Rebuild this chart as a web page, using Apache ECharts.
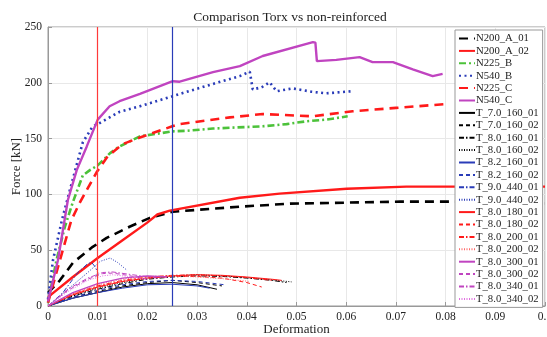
<!DOCTYPE html>
<html>
<head>
<meta charset="utf-8">
<script src="https://cdn.jsdelivr.net/npm/echarts@6/dist/echarts.min.js"></script>
<style>
html,body{margin:0;padding:0;background:#fff;}
#chart{width:547px;height:337px;}
</style>
</head>
<body>
<div id="chart"></div>
<script>
// deformation / force pairs
var n200A01 = [[0,11.7],[0.0024,23],[0.005,38.7],[0.009,53],[0.0118,61],[0.0164,71],[0.0205,79],[0.0251,84.5],[0.0386,89],[0.0487,91.7],[0.0708,93.5],[0.0822,93.5],[0.1,92]];
var n200A02 = [[0,8],[0.005,26],[0.01,43],[0.015,59],[0.0199,74.5],[0.022,82],[0.0245,85.4],[0.0386,97],[0.0466,100.7],[0.0601,105],[0.0721,107],[0.0814,107],[0.1,107]];
var n225B = [[0,3],[0.0017,41],[0.0034,71],[0.005,93],[0.007,117],[0.0085,122],[0.01,126],[0.0125,137],[0.0144,143],[0.0185,152],[0.0251,156.5],[0.028,157],[0.0332,159],[0.038,160],[0.0432,161],[0.048,163],[0.052,165.5],[0.056,167],[0.0603,170]];
var n540B = [[0,6],[0.001,41],[0.0028,77],[0.0048,110.6],[0.007,146.6],[0.009,161],[0.01,163],[0.0144,174],[0.0185,179],[0.0251,188],[0.0265,190],[0.0332,199],[0.0386,206],[0.0406,210],[0.0412,194],[0.043,196],[0.0446,200.5],[0.046,192.4],[0.0492,195],[0.053,192],[0.056,190.6],[0.0611,192.4]];
var n225C = [[0,3],[0.0024,41],[0.0047,77],[0.0064,92.6],[0.0098,120],[0.012,134],[0.015,145],[0.0185,151],[0.025,161],[0.0265,163],[0.0366,169],[0.0432,172],[0.0533,170],[0.0613,174.5],[0.07,177.5],[0.0802,181]];
var n540C = [[0,4],[0.002,41],[0.004,95],[0.0058,122],[0.0078,143],[0.01,167],[0.0124,179],[0.0144,183.5],[0.0185,190],[0.0251,201.4],[0.0265,201],[0.0332,209.5],[0.0386,215],[0.0432,224],[0.0533,236.5],[0.0538,236],[0.0541,219.4],[0.058,220.5],[0.0627,223],[0.0653,218.5],[0.0694,218.5],[0.0734,212],[0.0774,206],[0.0794,208]];

var t70_160_01 = [[0,0],[0.005,7],[0.01,12],[0.015,17],[0.02,20],[0.025,21],[0.03,19],[0.034,15]];
var t70_160_02 = [[0,0],[0.005,8],[0.01,13],[0.015,18],[0.02,21],[0.025,23],[0.03,21],[0.035,18]];
var t80_160_01 = [[0,0],[0.005,9],[0.01,15],[0.015,20],[0.02,24],[0.025,26],[0.03,27],[0.035,26.5],[0.04,25],[0.045,23],[0.048,21]];
var t80_160_02 = [[0,0],[0.005,10],[0.01,16],[0.015,21],[0.02,25],[0.025,27],[0.03,28],[0.035,27],[0.04,25.5],[0.045,23.5],[0.049,21.6]];
var t82_160_01 = [[0,0],[0.005,7],[0.01,12],[0.015,16],[0.02,19],[0.025,19.5],[0.03,18],[0.0325,16]];
var t82_160_02 = [[0,0],[0.005,8],[0.01,14],[0.015,19],[0.02,22],[0.025,23],[0.03,22],[0.0356,19]];
var t90_440_01 = [[0,0],[0.003,12],[0.006,30],[0.008,38],[0.0088,39],[0.0095,35],[0.01,30],[0.0098,27]];
var t90_440_02 = [[0,0],[0.004,15],[0.008,30],[0.0105,40],[0.0125,43],[0.014,39],[0.0159,32]];
var t80_180_01 = [[0,0],[0.005,10],[0.01,17],[0.015,22],[0.02,25],[0.025,27],[0.03,28],[0.035,27.5],[0.04,26],[0.045,24],[0.047,23]];
var t80_180_02 = [[0,0],[0.005,10],[0.01,17],[0.015,22],[0.02,25],[0.025,26.5],[0.03,26.5],[0.035,25],[0.04,21],[0.043,17]];
var t80_200_01 = [[0,0],[0.005,11],[0.01,18],[0.015,23],[0.02,26],[0.025,27.5],[0.03,28],[0.035,27],[0.04,25.5],[0.045,23]];
var t80_200_02 = [[0,0],[0.005,11],[0.01,19],[0.015,24],[0.02,26.5],[0.025,27],[0.03,26],[0.035,24.5],[0.0406,22]];
var t80_300_01 = [[0,0],[0.005,12],[0.01,20],[0.015,25],[0.02,27],[0.024,26]];
var t80_300_02 = [[0,0],[0.004,14],[0.008,24],[0.011,29],[0.013,29.5],[0.016,27.5],[0.02,24]];
var t80_340_01 = [[0,0],[0.004,15],[0.008,25],[0.011,30],[0.013,30.5],[0.017,28],[0.022,25]];
var t80_340_02 = [[0,0],[0.004,13],[0.008,23],[0.011,27],[0.013,28],[0.016,26.5],[0.02,24]];

var refLines = [0.01, 0.025];

var chart = {
    draw:function(id){
        var myChart = echarts.init(document.getElementById(id));
        myChart.setOption(this.getOption());
    },
    line:function(name,data,color,width,type){
        return {
            name: name,
            type: 'line',
            data: data,
            symbol: 'none',
            showSymbol: false,
            silent: true,
            animation: false,
            lineStyle: {color: color, width: width, type: type},
            itemStyle: {color: color}
        };
    },
    getOption:function(){
        var blk = '#000000', red = '#ff1a1a', grn = '#4cc23a', blu = '#2a3cb8', mag = '#c044c0';
        var dashDot = [5,2,1.5,2];
        var series = [
            this.line('N200_A_01', n200A01, blk, 2.6, [9,6]),
            this.line('N200_A_02', n200A02, red, 2.4, 'solid'),
            this.line('N225_B', n225B, grn, 2.6, [7,3,2,3]),
            this.line('N540_B', n540B, blu, 2.6, [2,3.5]),
            this.line('N225_C', n225C, red, 2.6, [9,6]),
            this.line('N540_C', n540C, mag, 2.4, 'solid'),
            this.line('T_7.0_160_01', t70_160_01, blk, 1, 'solid'),
            this.line('T_7.0_160_02', t70_160_02, blk, 1, [4,3]),
            this.line('T_8.0_160_01', t80_160_01, blk, 1, dashDot),
            this.line('T_8.0_160_02', t80_160_02, blk, 1, [1,1.5]),
            this.line('T_8.2_160_01', t82_160_01, blu, 1, 'solid'),
            this.line('T_8.2_160_02', t82_160_02, blu, 1, [4,3]),
            this.line('T_9.0_440_01', t90_440_01, blu, 1, dashDot),
            this.line('T_9.0_440_02', t90_440_02, blu, 1, [1,1.5]),
            this.line('T_8.0_180_01', t80_180_01, red, 1, 'solid'),
            this.line('T_8.0_180_02', t80_180_02, red, 1, [4,3]),
            this.line('T_8.0_200_01', t80_200_01, red, 1, dashDot),
            this.line('T_8.0_200_02', t80_200_02, '#ff6a6a', 1, [1,1.5]),
            this.line('T_8.0_300_01', t80_300_01, mag, 1.4, 'solid'),
            this.line('T_8.0_300_02', t80_300_02, mag, 1, [4,3]),
            this.line('T_8.0_340_01', t80_340_01, mag, 1, dashDot),
            this.line('T_8.0_340_02', t80_340_02, '#e070e0', 1, [1,1.5])
        ];
        // vertical reference lines
        series[0].markLine = {
            symbol: 'none',
            silent: true,
            animation: false,
            precision: 4,
            label: {show: false},
            data: [
                {xAxis: refLines[0], lineStyle: {color: '#ff3a3a', width: 1.2, type: 'solid'}},
                {xAxis: refLines[1], lineStyle: {color: '#2a3cb8', width: 1.2, type: 'solid'}}
            ]
        };
        var font = 'Liberation Serif';
        return {
            backgroundColor: '#fff',
            animation: false,
            title: {
                text: 'Comparison Torx vs non-reinforced',
                left: 285, top: 5, textAlign: 'center',
                textStyle: {fontFamily: font, fontSize: 13.5, fontWeight: 'normal', color: '#222'}
            },
            legend: {
                orient: 'vertical',
                left: 455, top: 30,
                padding: [3,4,3,3],
                backgroundColor: '#fff',
                borderColor: '#999',
                borderWidth: 1,
                itemWidth: 16,
                itemHeight: 8,
                itemGap: 1.4,
                itemStyle: {opacity: 0},
                textStyle: {fontFamily: font, fontSize: 10.7, color: '#222', padding: [0,0,0,-4]},
                data: series.map(function(s){ return s.name; })
            },
            grid: {left: 48, right: 2, top: 27, bottom: 31, outerBoundsMode: 'none', containLabel: false,
                show: true, borderColor: '#999', borderWidth: 1},
            xAxis: {
                type: 'value', min: 0, max: 0.1, interval: 0.01,
                name: 'Deformation', nameLocation: 'middle', nameGap: 17, nameMoveOverlap: false,
                nameTextStyle: {fontFamily: font, fontSize: 13, color: '#222'},
                axisLine: {lineStyle: {color: '#999'}},
                axisTick: {inside: true, length: 4, lineStyle: {color: '#999'}},
                axisLabel: {fontFamily: font, fontSize: 11.5, color: '#222', margin: 5},
                splitLine: {show: true, lineStyle: {color: '#e8e8e8'}}
            },
            yAxis: {
                type: 'value', min: 0, max: 250, interval: 50,
                name: 'Force [kN]', nameLocation: 'middle', nameGap: 25, nameMoveOverlap: false,
                nameTextStyle: {fontFamily: font, fontSize: 13, color: '#222'},
                axisLine: {show: true, lineStyle: {color: '#999'}},
                axisTick: {inside: true, length: 4, lineStyle: {color: '#999'}},
                axisLabel: {fontFamily: font, fontSize: 11.5, color: '#222', margin: 6},
                splitLine: {show: true, lineStyle: {color: '#e8e8e8'}}
            },
            series: series
        };
    }
};

chart.draw('chart');
</script>
</body>
</html>
